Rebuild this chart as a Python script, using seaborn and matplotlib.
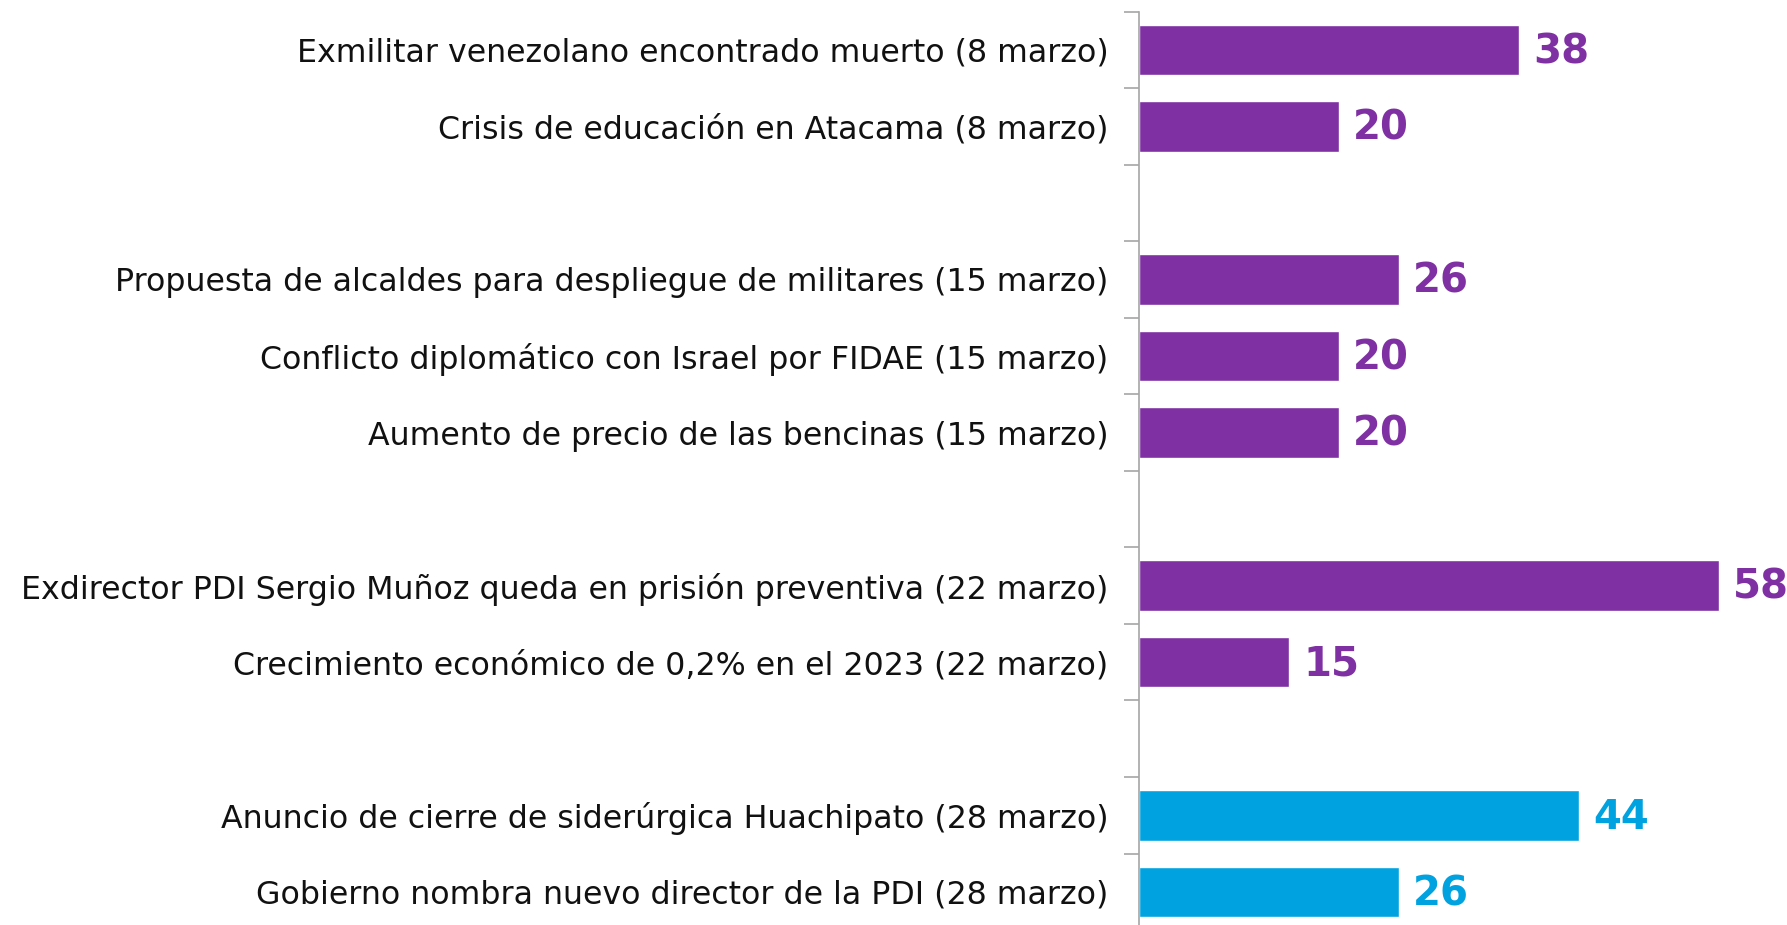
import numpy as np
import pandas as pd
import seaborn as sns
import matplotlib.pyplot as plt

# datos (los huecos separan las semanas)
temas = [
    "Exmilitar venezolano encontrado muerto (8 marzo)",
    "Crisis de educación en Atacama (8 marzo)",
    "",
    "Propuesta de alcaldes para despliegue de militares (15 marzo)",
    "Conflicto diplomático con Israel por FIDAE (15 marzo)",
    "Aumento de precio de las bencinas (15 marzo)",
    "",
    "Exdirector PDI Sergio Muñoz queda en prisión preventiva (22 marzo)",
    "Crecimiento económico de 0,2% en el 2023 (22 marzo)",
    "",
    "Anuncio de cierre de siderúrgica Huachipato (28 marzo)",
    "Gobierno nombra nuevo director de la PDI (28 marzo)",
]
valores = [38, 20, np.nan, 26, 20, 20, np.nan, 58, 15, np.nan, 44, 26]
grupo = ["morado"] * 10 + ["azul"] * 2
colores = {"morado": "#7F30A3", "azul": "#00A2E0"}

claves = [t if t else "_hueco%d" % i for i, t in enumerate(temas)]
df = pd.DataFrame({"tema": claves, "valor": valores, "grupo": grupo})

sns.set_style("white")
plt.rcParams['font.family'] = ['DejaVu Sans']

fig = plt.figure(figsize=(17.87, 9.25), dpi=100)
ax = fig.add_axes([1139/1787, -0.0055, 1 - 1139/1787, 0.993])

sns.barplot(data=df, x="valor", y="tema", hue="grupo", palette=colores,
            order=claves, dodge=False, legend=False, width=0.66,
            saturation=1, ax=ax)

for i, (v, g) in enumerate(zip(valores, grupo)):
    if np.isnan(v):
        continue
    ax.text(v + 1.4, i + 0.03, "%d" % v, va="center", ha="left", fontsize=29,
            fontweight="bold", color=colores[g], clip_on=False)

ax.set_xlim(0, 64.8)
ax.set_ylim(11.5, -0.5)
ax.set_xlabel("")
ax.set_ylabel("")
ax.set_xticks([])

ax.set_yticks(range(len(temas)))
ax.set_yticklabels(temas, fontsize=22.8, color="#111111")
ax.tick_params(axis="y", which="major", length=0, pad=22)
ax.set_yticks(np.arange(-0.5, len(temas), 1), minor=True)
ax.tick_params(axis="y", which="minor", left=True, length=11, width=1.2,
               color="#A6A6A6", direction="out")

for s in ["top", "right", "bottom"]:
    ax.spines[s].set_visible(False)
ax.spines["left"].set_color("#A6A6A6")
ax.spines["left"].set_linewidth(1.2)

fig.savefig("out.png", dpi=100)
